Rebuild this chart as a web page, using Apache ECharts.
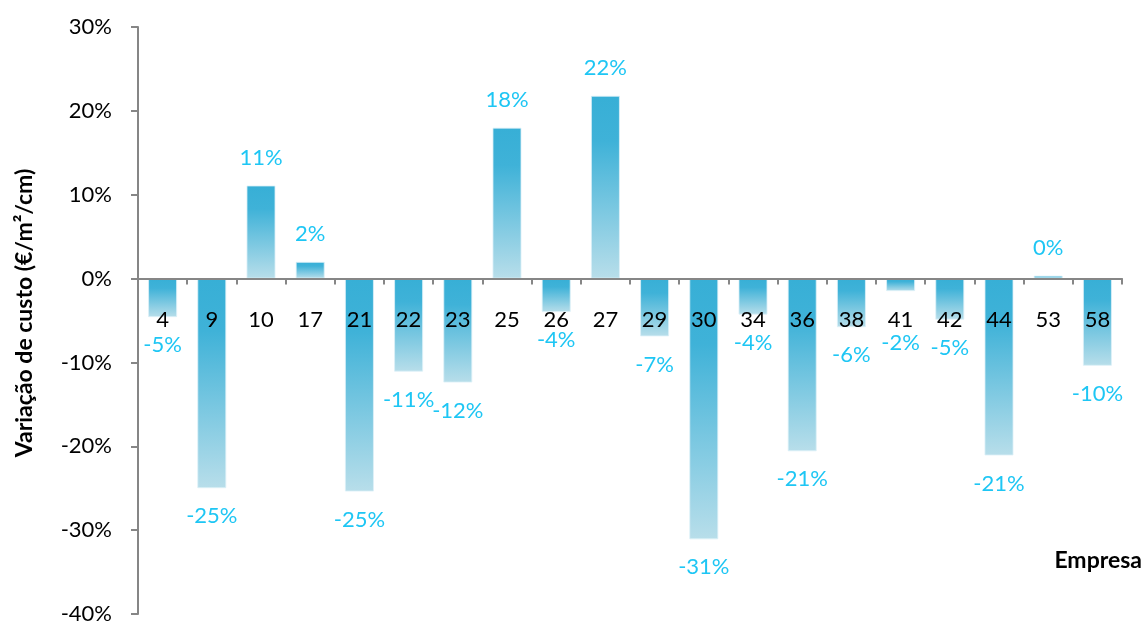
<!DOCTYPE html>
<html>
<head>
<meta charset="utf-8">
<script src="https://cdn.jsdelivr.net/npm/echarts@6/dist/echarts.min.js"></script>
<style>
  html, body { margin: 0; padding: 0; background: #fff; }
  #chart { width: 1144px; height: 624px; }
</style>
</head>
<body>
<div id="chart"></div>
<script>
// empresas (eixo x)
const categories = ['4', '9', '10', '17', '21', '22', '23', '25', '26', '27',
  '29', '30', '34', '36', '38', '41', '42', '44', '53', '58'];
// variação de custo em %
const values = [-4.6, -25.0, 11.1, 2.0, -25.4, -11.1, -12.4, 18.0, -4.0, 21.8,
  -6.9, -31.1, -4.3, -20.6, -5.8, -1.5, -4.9, -21.1, 0.35, -10.4];
const yTicks = [-40, -30, -20, -10, 0, 10, 20, 30];

const font = 'Lato, "Open Sans", sans-serif';

const gridTop = 27;
const gridBottom = 10;
const yMin = yTicks[0];
const yMax = yTicks[yTicks.length - 1];
// desloca o eixo x da base da grelha até ao zero
const gridH = 624 - gridTop - gridBottom;
const zeroOffset = -gridH * (0 - yMin) / (yMax - yMin);

// a etiqueta da empresa 41 fica abaixo do nome (como no original)
const seriesData = values.map((v, i) =>
  categories[i] === '41' ? { value: v, label: { offset: [0, 24] } } : v
);

const chart = echarts.init(document.getElementById('chart'));

const option = {
  backgroundColor: '#fff',
  animation: false,
  grid: {
    left: 138,
    right: 22,
    top: gridTop,
    bottom: gridBottom,
    containLabel: false,
    outerBoundsMode: 'none'
  },
  xAxis: {
    type: 'category',
    data: categories,
    position: 'bottom',
    offset: zeroOffset,
    z: 10,
    axisLine: { onZero: false, lineStyle: { color: '#868686', width: 2 } },
    axisTick: { show: true, length: 6, lineStyle: { color: '#868686', width: 2 } },
    axisLabel: {
      interval: 0,
      margin: 30,
      color: '#000',
      fontSize: 22,
      fontFamily: font
    },
    splitLine: { show: false }
  },
  yAxis: {
    type: 'value',
    min: yMin,
    max: yMax,
    interval: 10,
    axisLine: { show: true, lineStyle: { color: '#868686', width: 2 } },
    axisTick: { show: true, length: 7, lineStyle: { color: '#868686', width: 2 } },
    axisLabel: {
      margin: 26,
      color: '#000',
      fontSize: 22,
      fontFamily: font,
      formatter: (v) => v + '%'
    },
    splitLine: { show: false }
  },
  series: [
    {
      type: 'bar',
      data: seriesData,
      barCategoryGap: '41%',
      itemStyle: {
        color: new echarts.graphic.LinearGradient(0, 0, 0, 1, [
          { offset: 0, color: '#37AFD6' },
          { offset: 0.25, color: '#3FB2D8' },
          { offset: 1, color: '#B8DEEA' }
        ]),
        borderColor: 'rgba(220,240,248,0.8)',
        borderWidth: 1
      },
      label: {
        show: true,
        position: 'outside',
        distance: 17,
        color: '#1EC6F4',
        fontSize: 22,
        fontFamily: font,
        formatter: (p) => p.value.toFixed(0) + '%'
      }
    }
  ],
  graphic: [
    {
      type: 'text',
      rotation: Math.PI / 2,
      x: 25,
      y: 313,
      style: {
        text: 'Variação de custo (€/m²/cm)',
        fontSize: 23,
        fontWeight: 'bold',
        fontFamily: font,
        fill: '#000',
        align: 'center',
        verticalAlign: 'middle'
      }
    },
    {
      type: 'text',
      right: 2,
      top: 549,
      style: {
        text: 'Empresa',
        fontSize: 23,
        fontWeight: 'bold',
        fontFamily: font,
        fill: '#000'
      }
    }
  ]
};

chart.setOption(option);
</script>
</body>
</html>
